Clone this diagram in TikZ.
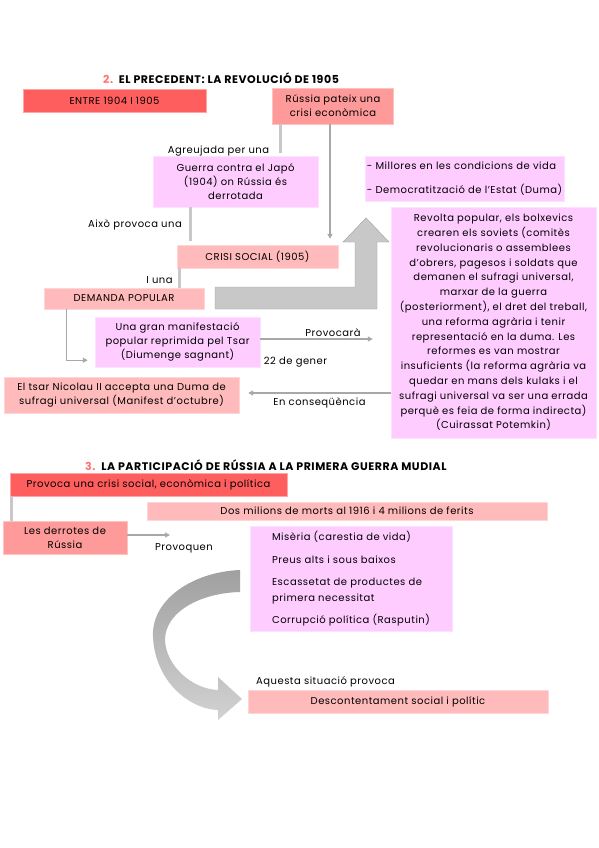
\documentclass[tikz,border=0pt]{standalone}
\usepackage{fontspec}
\setmainfont{Poppins}[LetterSpace=5]
\usetikzlibrary{arrows.meta}

\definecolor{vermell}{HTML}{FF5E5E}
\definecolor{salmo}{HTML}{FF9A9A}
\definecolor{rosaclar}{HTML}{FFBBBB}
\definecolor{lila}{HTML}{FFCCFF}
\definecolor{gris}{HTML}{C8C8C8}
\definecolor{grisfosc}{HTML}{A8A8A8}
\definecolor{titol}{HTML}{FF7373}
\definecolor{corbadalt}{HTML}{A0A0A0}
\definecolor{corbabaix}{HTML}{D2D2D2}

\begin{document}
\begin{tikzpicture}[x=1pt,y=-1pt,
  caixa/.style={inner sep=0pt,align=center,font=\fontsize{10}{14}\selectfont},
  etiqueta/.style={inner sep=0pt,font=\fontsize{10}{14}\selectfont},
  gruixuda/.style={gris,line width=3pt},
  fletxa/.style={grisfosc,line width=1.3pt,-{Triangle[length=5pt,width=5pt]}}]
\useasboundingbox[fill=white] (0,0) rectangle (599,848);

% Titol 2
\node[inner sep=0pt,anchor=west,font=\fontsize{11}{12}\selectfont\bfseries] (titoldos) at (103,78) {\textcolor{titol}{2.}\ \ EL PRECEDENT: LA REVOLUCIÓ DE 1905};

% Caixes de la revolucio
\node[caixa,fill=vermell,draw=vermell!55!white,minimum width=183pt,minimum height=23pt] (entre) at (114.5,100.5) {ENTRE 1904 I 1905};
\node[caixa,fill=salmo,draw=salmo!60!white,minimum width=121pt,minimum height=36pt] (russia) at (333,106) {Rússia pateix una\\crisi econòmica};
\node[caixa,fill=lila,draw=lila!60!white,minimum width=165pt,minimum height=51pt] (guerra) at (235.5,181.5) {Guerra contra el Japó\\(1904) on Rússia és\\derrotada};
\node[caixa,fill=rosaclar,draw=rosaclar!60!white,minimum width=161pt,minimum height=23pt] (crisi) at (257.5,256.5) {CRISI SOCIAL (1905)};
\node[caixa,fill=rosaclar,draw=rosaclar!60!white,minimum width=160pt,minimum height=21pt] (demanda) at (124,298.5) {DEMANDA POPULAR};
\node[caixa,fill=lila,draw=lila!60!white,minimum width=165pt,minimum height=50pt] (manif) at (177.5,342) {Una gran manifestació\\popular reprimida pel Tsar\\(Diumenge sagnant)};
\node[caixa,fill=rosaclar,draw=rosaclar!60!white,minimum width=235pt,minimum height=36pt] (tsar) at (121.5,395) {El tsar Nicolau II accepta una Duma de\\sufragi universal (Manifest d’octubre)};
\node[caixa,fill=lila,draw=lila!60!white,minimum width=199pt,minimum height=45pt,align=left,font=\fontsize{10}{24}\selectfont] (millores) at (464.5,178.5) {- Millores en les condicions de vida\\- Democratització de l’Estat (Duma)};
\node[caixa,fill=lila,draw=lila!60!white,minimum width=205pt,minimum height=231pt,font=\fontsize{10}{14.8}\selectfont] (revolta) at (493.5,322.5) {Revolta popular, els bolxevics\\crearen els soviets (comitès\\revolucionaris o assemblees\\d’obrers, pagesos i soldats que\\demanen el sufragi universal,\\marxar de la guerra\\(posteriorment), el dret del treball,\\una reforma agrària i tenir\\representació en la duma. Les\\reformes es van mostrar\\insuficients (la reforma agrària va\\quedar en mans dels kulaks i el\\sufragi universal va ser una errada\\perquè es feia de forma indirecta)\\(Cuirassat Potemkin)};

% Etiquetes
\node[etiqueta] (agreujada) at (218.5,151) {Agreujada per una};
\node[etiqueta] (aixo) at (135,225) {Això provoca una};
\node[etiqueta] (iuna) at (159.5,280) {I una};
\node[etiqueta] (provocara) at (333,333) {Provocarà};
\node[etiqueta] (gener) at (295.5,362) {22 de gener};
\node[etiqueta] (consequencia) at (319.5,403) {En conseqüència};

% Fletxa grossa
\draw[gris!80!black,line width=0.4pt,fill=gris] (215,287) -- (355,287) -- (355,242) -- (343,242) -- (366,218) -- (389,242) -- (377,242) -- (377,309) -- (215,309) -- cycle;

% Connectors
\draw[gruixuda] ([xshift=-53pt]russia.south) -- ([xshift=-53pt,yshift=3pt]russia.south |- guerra.north);
\draw[fletxa,shorten >=6pt] ([xshift=-3pt]russia.south) -- ([xshift=-3pt]russia.south |- crisi.north);
\draw[gruixuda] ([xshift=38pt]guerra.south west) -- ([xshift=38pt,yshift=4pt]guerra.south west |- crisi.north);
\draw[gruixuda] ([xshift=3pt]crisi.south west) -- ([xshift=3pt]crisi.south west |- demanda.north);
\draw[fletxa,shorten >=7pt] ([xshift=23pt]demanda.south west) |- ([yshift=7pt]manif.south west);
\draw[fletxa,shorten >=18pt] ([yshift=3pt]manif.east) -- ([yshift=3pt]manif.east -| revolta.west);
\draw[fletxa,shorten >=9pt] ([yshift=2pt]revolta.west |- tsar.east) -- ([yshift=2pt]tsar.east);

% Titol 3
\node[inner sep=0pt,anchor=west,font=\fontsize{11}{12}\selectfont\bfseries] (titoltres) at (85,465) {\textcolor{titol}{3.}\ \ LA PARTICIPACIÓ DE RÚSSIA A LA PRIMERA GUERRA MUDIAL};

% Caixes de la guerra
\node[caixa,fill=vermell,draw=vermell!55!white,minimum width=277pt,minimum height=23pt] (provoca) at (148.5,484.5) {Provoca una crisi social, econòmica i política};
\node[caixa,fill=rosaclar,draw=rosaclar!60!white,minimum width=400pt,minimum height=18pt] (morts) at (347,511) {Dos milions de morts al 1916 i 4 milions de ferits};
\node[caixa,fill=salmo,draw=salmo!60!white,minimum width=124pt,minimum height=33pt] (derrotes) at (65,537.5) {Les derrotes de\\Rússia};
\node[caixa,fill=lila,draw=lila!60!white,minimum width=202pt,minimum height=105pt,align=left,font=\fontsize{10}{16}\selectfont] (llista) at (351,578.5) {Misèria (carestia de vida)\\[6.5pt]Preus alts i sous baixos\\[6pt]Escassetat de productes de\\primera necessitat\\[6pt]Corrupció política (Rasputin)};
\node[caixa,fill=rosaclar,draw=rosaclar!60!white,minimum width=300pt,minimum height=23pt] (descont) at (398,701.5) {Descontentament social i polític};

\node[etiqueta] (provoquen) at (184,548) {Provoquen};
\node[etiqueta] (aquesta) at (325.5,682) {Aquesta situació provoca};

\coordinate (provq) at (170,535);
\draw[gruixuda] ([xshift=2pt]provoca.south west) -- ([xshift=2pt]provoca.south west |- derrotes.north);
\draw[fletxa] ([yshift=2.5pt]derrotes.east) -- (provq);

% Fletxa corba
\shade[top color=corbadalt,bottom color=corbabaix] (240,570) .. controls (192,572) and (151,600) .. (153,637) .. controls (155,680) and (188,709) .. (218,710) -- (218,720) -- (242,699) -- (218,677) -- (218,690) .. controls (192,689) and (166,666) .. (165,640) .. controls (165,612) and (200,593) .. (240,592) -- cycle;
\end{tikzpicture}
\end{document}
